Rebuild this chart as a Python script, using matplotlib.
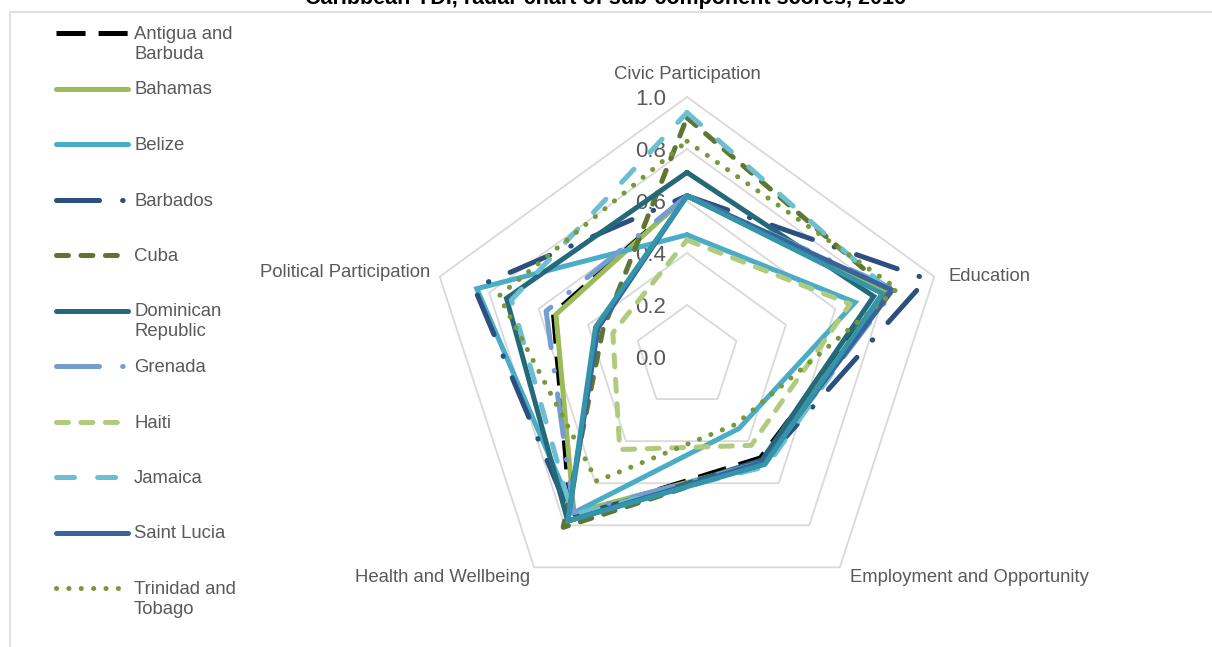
import numpy as np
import matplotlib
matplotlib.use("Agg")
import matplotlib.pyplot as plt
from matplotlib.lines import Line2D
from matplotlib.patches import Rectangle
from matplotlib.transforms import offset_copy

plt.rcParams['font.family'] = ['Liberation Sans', 'DejaVu Sans']
plt.rcParams['lines.scale_dashes'] = False

# axes of the radar, clockwise from the top
categories = ["Civic Participation", "Education", "Employment and Opportunity",
              "Health and Wellbeing", "Political Participation"]
levels = [0.0, 0.2, 0.4, 0.6, 0.8, 1.0]

# scores per country, same order as categories
antigua = [0.62, 0.80, 0.48, 0.76, 0.54]
bahamas = [0.62, 0.80, 0.50, 0.74, 0.53]
belize = [0.47, 0.68, 0.34, 0.74, 0.85]
barbados = [0.62, 0.97, 0.50, 0.76, 0.86]
cuba = [0.92, 0.82, 0.50, 0.81, 0.34]
dominican_rep = [0.71, 0.755, 0.49, 0.78, 0.73]
grenada = [0.62, 0.84, 0.50, 0.74, 0.57]
haiti = [0.45, 0.66, 0.42, 0.44, 0.30]
jamaica = [0.94, 0.82, 0.52, 0.75, 0.71]
saint_lucia = [0.62, 0.83, 0.50, 0.78, 0.36]
trinidad = [0.83, 0.85, 0.32, 0.59, 0.76]
unlisted = [0.62, 0.79, 0.51, 0.78, 0.37]   # series cut off from the legend

names = ["Antigua and\nBarbuda", "Bahamas", "Belize", "Barbados", "Cuba",
         "Dominican\nRepublic", "Grenada", "Haiti", "Jamaica", "Saint Lucia",
         "Trinidad and\nTobago"]
series = [antigua, bahamas, belize, barbados, cuba, dominican_rep, grenada,
          haiti, jamaica, saint_lucia, trinidad, unlisted]

# line styles (dashes in points)
lw = 3.6
lgdash = (0, (20.9, 9.4))
lgdashdot = (0, (31.0, 16.6, 0.4, 16.6))
dash = (0, (8.6, 9.0))
jam_dash = (0, (13.0, 16.6))
dots = (0, (0.1, 8.8))
styles = [
    dict(color="#000000", ls=lgdash, cap="butt"),
    dict(color="#9BBB59", ls="-", cap="round"),
    dict(color="#4BACC6", ls="-", cap="round"),
    dict(color="#2B4F7E", ls=lgdashdot, cap="round"),
    dict(color="#5F7632", ls=dash, cap="round"),
    dict(color="#24697A", ls="-", cap="round"),
    dict(color="#759ED0", ls=lgdashdot, cap="round"),
    dict(color="#B0CB7E", ls=dash, cap="round"),
    dict(color="#6CBFD2", ls=jam_dash, cap="round"),
    dict(color="#38649C", ls="-", cap="round"),
    dict(color="#77993A", ls=dots, cap="round"),
    dict(color="#3494AA", ls="-", cap="round"),
]

W, H = 1212, 647
fig = plt.figure(figsize=(W / 100, H / 100), dpi=100)

# chart frame (only top and left edges are in view)
fig.add_artist(Rectangle((10 / W, -0.2), 1.2, 1 - 12 / H + 0.2, transform=fig.transFigure,
                         fill=False, ec="#D9D9D9", lw=1.2))

fig.text(605 / W, 1 - 4 / H, "Caribbean YDI, radar chart of sub-component scores, 2016",
         ha="center", va="baseline", fontsize=15.5, fontweight="bold", color="#000000")

ax = fig.add_axes([427 / W, 1 - 617 / H, 520 / W, 520 / H], projection="polar")
ax.set_theta_offset(np.pi / 2)
ax.set_theta_direction(-1)
ax.set_ylim(0, 1)
ax.set_axis_off()

n = len(categories)
theta = np.linspace(0, 2 * np.pi, n, endpoint=False)
theta_c = np.append(theta, theta[0])

for lv in levels[1:]:
    ax.plot(theta_c, [lv] * (n + 1), color="#D9D9D9", lw=1.3, clip_on=False, zorder=1)

for vals, st in zip(series, styles):
    v = np.append(vals, vals[0])
    ax.plot(theta_c, v, color=st["color"], ls=st["ls"], lw=lw, clip_on=False,
            solid_capstyle=st["cap"], dash_capstyle=st["cap"], solid_joinstyle="miter",
            zorder=3)

# value labels to the left of the top spoke
tick_tr = offset_copy(ax.transData, fig=fig, x=-36, y=0, units="dots")
for lv in levels:
    ax.text(0, lv, f"{lv:.1f}", transform=tick_tr, ha="center", va="center_baseline",
            fontsize=16, color="#595959", zorder=2)

# category labels
offsets = [(0, 14, "center", "bottom"), (14, 0, "left", "center"),
           (10, -10, "left", "center"), (-4, -10, "right", "center"),
           (-9, 4, "right", "center")]
for t, cat, (dx, dy, ha, va) in zip(theta, categories, offsets):
    tr = offset_copy(ax.transData, fig=fig, x=dx, y=dy, units="dots")
    ax.text(t, 1.0, cat, transform=tr, ha=ha, va=va, fontsize=13.3, color="#595959")

# legend drawn by hand on the left
for i, (name, st) in enumerate(zip(names, styles)):
    y = 1 - (33 + i * 55.5) / H
    fig.add_artist(Line2D([56 / W, 128 / W], [y, y], transform=fig.transFigure,
                          color=st["color"], ls=st["ls"], lw=lw,
                          solid_capstyle=st["cap"], dash_capstyle=st["cap"]))
    fig.text(134 / W, y + 7 / H, name, ha="left", va="top", fontsize=13.3,
             color="#595959", linespacing=1.2)

fig.savefig("out.png", dpi=100)
